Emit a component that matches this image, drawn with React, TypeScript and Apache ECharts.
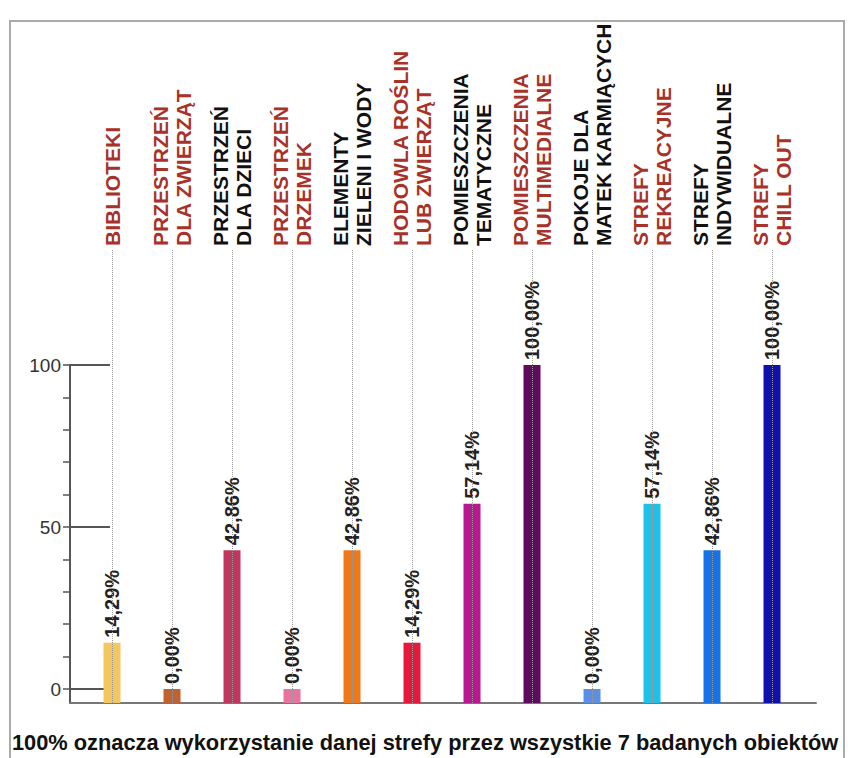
import React, { useEffect, useRef } from 'react';
import * as echarts from 'echarts';

const categories = [
  'BIBLIOTEKI',
  'PRZESTRZEŃ\nDLA ZWIERZĄT',
  'PRZESTRZEŃ\nDLA DZIECI',
  'PRZESTRZEŃ\nDRZEMEK',
  'ELEMENTY\nZIELENI I WODY',
  'HODOWLA ROŚLIN\nLUB ZWIERZĄT',
  'POMIESZCZENIA\nTEMATYCZNE',
  'POMIESZCZENIA\nMULTIMEDIALNE',
  'POKOJE DLA\nMATEK KARMIĄCYCH',
  'STREFY\nREKREACYJNE',
  'STREFY\nINDYWIDUALNE',
  'STREFY\nCHILL OUT',
];
const labelIsRed = [true, true, false, true, false, true, false, true, false, true, false, true];
const values = [14.29, 0, 42.86, 0, 42.86, 14.29, 57.14, 100, 0, 57.14, 42.86, 100];
const barColors = [
  '#f3c660', '#c0622f', '#c0365f', '#e8739c', '#f07818', '#e8183c',
  '#b8178f', '#5e0a5e', '#5b8fe6', '#1ec1ea', '#1572e8', '#1010b0',
];
const yLabelValues = [0, 50, 100];
const yMinorTickValues = [0, 10, 20, 30, 40, 50, 60, 70, 80, 90, 100];
const footnote = '100% oznacza wykorzystanie danej strefy przez wszystkie 7 badanych obiektów';

const FONT = '"Liberation Sans", Arial, sans-serif';
const Y_MIN = -4.32;
const Y_MAX = 100;
const X_MIN = -0.7;
const X_MAX = 11.733;
const RED = '#a83228';
const AXIS_COLOR = '#555';

export default function App() {
  const ref = useRef<HTMLDivElement>(null);
  useEffect(() => {
    if (!ref.current) return;
    const chart = echarts.init(ref.current, undefined, { renderer: 'svg' });
    const idx = categories.map((_, i) => i);
    chart.setOption({
      animation: false,
      backgroundColor: '#fff',
      title: {
        text: footnote,
        left: 12,
        top: 731,
        padding: 0,
        textStyle: { fontFamily: FONT, fontSize: 21.8, fontWeight: 'bold', color: '#111' },
      },
      graphic: [
        {
          type: 'rect',
          shape: { x: 10, y: 21, width: 834, height: 745 },
          style: { fill: 'none', stroke: '#aaa', lineWidth: 2 },
          silent: true,
          z: -1,
        },
      ],
      grid: { left: 70, right: 32, top: 365, bottom: 55 },
      xAxis: [
        {
          type: 'value',
          min: X_MIN,
          max: X_MAX,
          position: 'bottom',
          axisLine: { show: true, onZero: false, lineStyle: { color: '#777', width: 2 } },
          axisTick: { show: false },
          axisLabel: { show: false },
          splitLine: { show: false },
        },
        {
          type: 'value',
          min: X_MIN,
          max: X_MAX,
          position: 'top',
          offset: 115,
          z: 10,
          axisLine: { show: false, onZero: false },
          axisTick: {
            show: true,
            inside: true,
            length: 453,
            customValues: idx,
            lineStyle: { color: '#999', type: 'dotted', width: 1 },
          },
          axisLabel: {
            show: true,
            customValues: idx,
            rotate: -90,
            margin: 4,
            formatter: (v: number) => {
              const i = Math.round(v);
              const tag = labelIsRed[i] ? 'r' : 'k';
              return categories[i]
                .split('\n')
                .map((s) => `{${tag}|${s}}`)
                .join('\n');
            },
            rich: {
              r: { color: RED, fontFamily: FONT, fontSize: 21, fontWeight: 'bold', lineHeight: 23 },
              k: { color: '#111', fontFamily: FONT, fontSize: 21, fontWeight: 'bold', lineHeight: 23 },
            },
          },
          splitLine: { show: false },
        },
      ],
      yAxis: [
        {
          type: 'value',
          min: Y_MIN,
          max: Y_MAX,
          position: 'left',
          axisLine: { show: true, onZero: false, lineStyle: { color: AXIS_COLOR, width: 2 } },
          axisTick: {
            show: true,
            length: 7,
            customValues: yMinorTickValues,
            lineStyle: { color: AXIS_COLOR, width: 1.5 },
          },
          axisLabel: {
            show: true,
            customValues: yLabelValues,
            margin: 9,
            fontFamily: FONT,
            fontSize: 19,
            color: '#333',
          },
          splitLine: { show: false },
        },
        {
          type: 'value',
          min: Y_MIN,
          max: Y_MAX,
          position: 'left',
          axisLine: { show: false, onZero: false },
          axisTick: {
            show: true,
            inside: true,
            length: 40,
            customValues: yLabelValues,
            lineStyle: { color: AXIS_COLOR, width: 2 },
          },
          axisLabel: { show: false },
          splitLine: { show: false },
        },
      ],
      series: [
        {
          name: 'base',
          type: 'bar',
          xAxisIndex: 0,
          yAxisIndex: 0,
          barWidth: 17,
          barGap: '-100%',
          silent: true,
          z: 2,
          data: values.map((_, i) => ({ value: [i, Y_MIN], itemStyle: { color: barColors[i] } })),
        },
        {
          name: 'wartość',
          type: 'bar',
          xAxisIndex: 0,
          yAxisIndex: 0,
          barWidth: 17,
          barGap: '-100%',
          z: 3,
          data: values.map((v, i) => ({ value: [i, v], itemStyle: { color: barColors[i] } })),
          label: {
            show: true,
            position: 'top',
            rotate: 90,
            align: 'left',
            verticalAlign: 'middle',
            distance: 5,
            fontFamily: FONT,
            fontSize: 20,
            fontWeight: 'bold',
            color: '#222',
            formatter: (p: any) => p.value[1].toFixed(2).replace('.', ',') + '%',
          },
        },
      ],
    });
    return () => chart.dispose();
  }, []);
  return (
    <div
      ref={ref}
      style={{ position: 'fixed', left: 0, top: 0, width: 848, height: 758, background: '#fff' }}
    />
  );
}
